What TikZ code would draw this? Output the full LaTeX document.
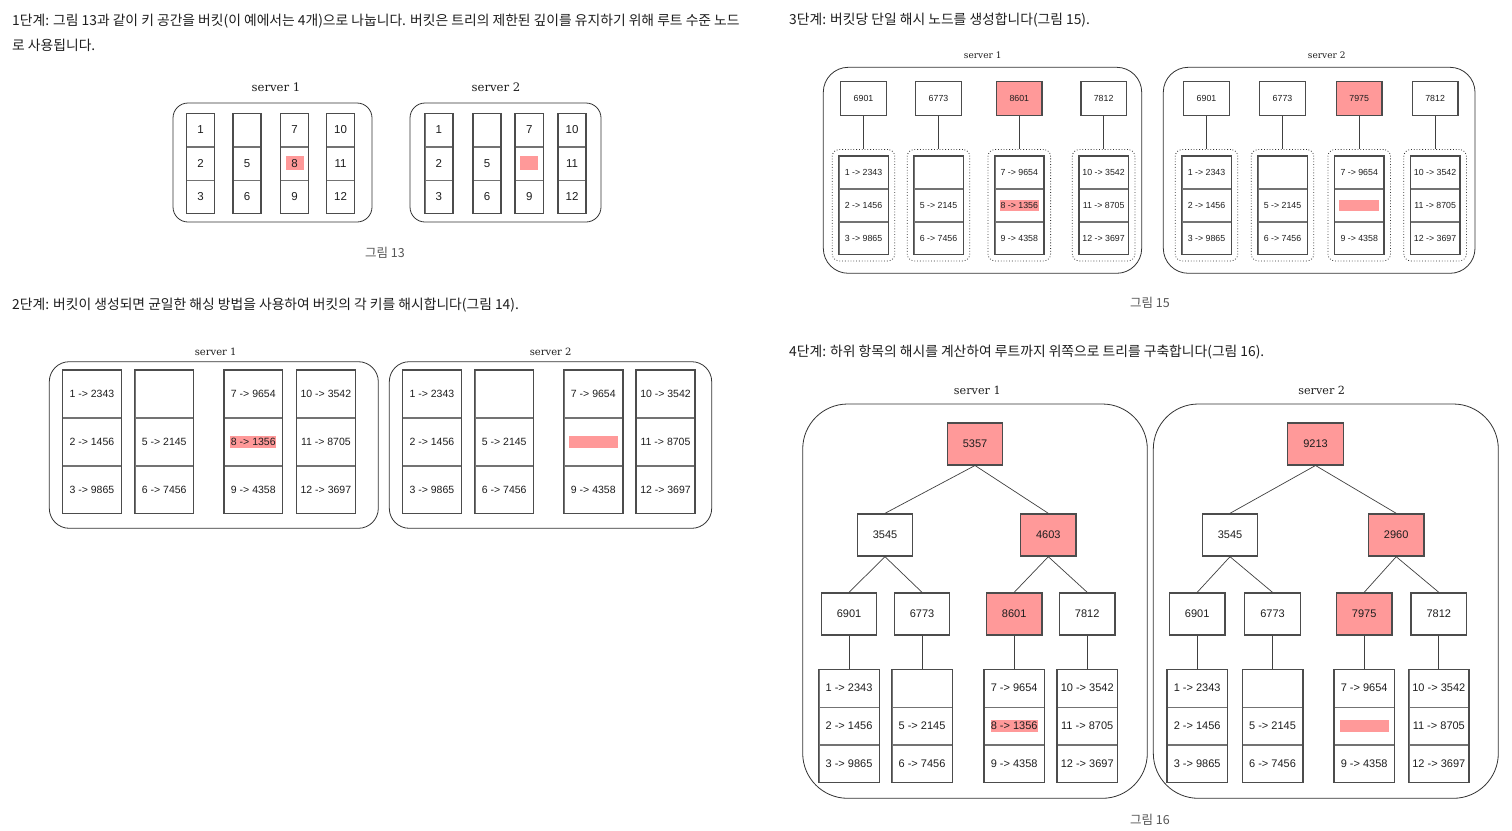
\documentclass[tikz,border=0pt]{standalone}
\usepackage{fontspec}
\setmainfont{Liberation Sans}
\newfontfamily\krfont{Noto Sans CJK KR}
\newfontfamily\srvfont{DejaVu Serif}
\usetikzlibrary{fit}
\definecolor{hlpink}{RGB}{255,153,153}
\definecolor{edgegray}{RGB}{51,51,51}
\definecolor{capgray}{RGB}{85,85,85}
\definecolor{inkgray}{RGB}{30,30,30}

% pink marker: width, height, text
\newcommand{\hlbox}[3]{{\fboxsep=0pt\colorbox{hlpink}{\parbox[c][#2][c]{#1}{\centering\mbox{}#3}}}}
% one bucket: name, centre x, top y, width, row height, three rows
\newcommand{\keycol}[8]{%
  \node[cell, minimum width=#4pt, minimum height=#5pt] (#1-1) at (#2,#3) {#6};
  \node[cell, minimum width=#4pt, minimum height=#5pt] (#1-2) at (#1-1.south) {#7};
  \node[cell, minimum width=#4pt, minimum height=#5pt] (#1-3) at (#1-2.south) {#8};
  \draw[colframe] (#1-1.north west) rectangle (#1-3.south east);
}

\tikzset{
  server/.style={draw=edgegray, line width=0.8pt},
  cell/.style={draw=black!55, line width=0.6pt, inner sep=0pt, anchor=north, text=inkgray},
  colframe/.style={draw=black!70, line width=1.4pt},
  hashbox/.style={draw=black!70, line width=1.4pt, inner sep=0pt, fill=white, text=inkgray},
  treebox/.style={hashbox, minimum width=55.5pt, minimum height=42pt},
  hot/.style={fill=hlpink},
  plain/.style={},
  dotgroup/.style={draw=black!80, dotted, line width=0.8pt, rounded corners=7pt, inner sep=6.5pt},
  link/.style={draw=black!75, line width=0.7pt},
  srvlabel/.style={font=\srvfont\fontsize{#1}{#1}\selectfont, text=inkgray},
  caption/.style={font=\krfont\fontsize{12.5}{15}\selectfont, text=capgray},
  steptext/.style={font=\krfont\fontsize{13.8}{25}\selectfont, text=inkgray, anchor=base west, inner sep=0pt, align=left},
}

\begin{document}
\begin{tikzpicture}[x=1pt, y=-1pt]
  \useasboundingbox (0,0) rectangle (1512,830);
  \fill[white] (0,0) rectangle (1512,830);

  % Step texts
  \node[steptext] (step1) at (12,50) {1단계: 그림 13과 같이 키 공간을 버킷(이 예에서는 4개)으로 나눕니다. 버킷은 트리의 제한된 깊이를 유지하기 위해 루트 수준 노드\\로 사용됩니다.};
  \node[steptext] (step2) at (12,309) {2단계: 버킷이 생성되면 균일한 해싱 방법을 사용하여 버킷의 각 키를 해시합니다(그림 14).};
  \node[steptext] (step3) at (789,24) {3단계: 버킷당 단일 해시 노드를 생성합니다(그림 15).};
  \node[steptext] (step4) at (789,356) {4단계: 하위 항목의 해시를 계산하여 루트까지 위쪽으로 트리를 구축합니다(그림 16).};

  % Figure 13: key space split into buckets
  \draw[server, rounded corners=15pt] (173,103) rectangle (372,222);
  \draw[server, rounded corners=15pt] (410,103) rectangle (601,222);
  \node[srvlabel=11.7] (f13a-lbl) at (276,87) {server 1};
  \node[srvlabel=11.7] (f13b-lbl) at (496,87) {server 2};
  \begin{scope}[font=\fontsize{11.5}{13}\selectfont]
    \foreach \x/\ta/\tb/\tc [count=\i] in {200.5/1/2/3, 247/{}/5/6, 294.5/7/{\hlbox{18pt}{14pt}{8}}/9, 340.5/10/11/12}
      {\keycol{f13a-\i}{\x}{113.3}{27.6}{32.8}{\ta}{\tb}{\tc}}
    \foreach \x/\ta/\tb/\tc [count=\i] in {438.7/1/2/3, 487/{}/5/6, 529.2/7/{\hlbox{18pt}{14pt}{}}/9, 572/10/11/12}
      {\keycol{f13b-\i}{\x}{113.3}{27.6}{32.8}{\ta}{\tb}{\tc}}
  \end{scope}
  \node[caption] (cap13) at (385,253) {그림 13};

  % Figure 14: hashed keys
  \draw[server, rounded corners=20pt] (49.3,361.7) rectangle (378.3,528.3);
  \draw[server, rounded corners=20pt] (389.3,361.7) rectangle (711.7,528.3);
  \node[srvlabel=10] (f14a-lbl) at (215.7,351.7) {server 1};
  \node[srvlabel=10] (f14b-lbl) at (550.7,351.7) {server 2};
  \begin{scope}[font=\fontsize{10.5}{12}\selectfont]
    \foreach \x/\ta/\tb/\tc [count=\i] in {91.9/1 -> 2343/2 -> 1456/3 -> 9865, 164.2/{}/5 -> 2145/6 -> 7456,
        253.3/7 -> 9654/{\hlbox{46pt}{11.7pt}{8 -> 1356}}/9 -> 4358, 325.9/10 -> 3542/11 -> 8705/12 -> 3697}
      {\keycol{f14a-\i}{\x}{370}{58.3}{47.2}{\ta}{\tb}{\tc}}
    \foreach \x/\ta/\tb/\tc [count=\i] in {431.9/1 -> 2343/2 -> 1456/3 -> 9865, 504.2/{}/5 -> 2145/6 -> 7456,
        593.3/7 -> 9654/{\hlbox{48.4pt}{12.4pt}{}}/9 -> 4358, 665.5/10 -> 3542/11 -> 8705/12 -> 3697}
      {\keycol{f14b-\i}{\x}{370}{58.5}{47.2}{\ta}{\tb}{\tc}}
  \end{scope}

  % Figure 15: one hash node per bucket
  \draw[server, rounded corners=25pt] (823.3,67.3) rectangle (1141.7,273.3);
  \draw[server, rounded corners=25pt] (1163.3,67.3) rectangle (1475,273.3);
  \node[srvlabel=9] (f15a-lbl) at (982.7,55.7) {server 1};
  \node[srvlabel=9] (f15b-lbl) at (1326.7,55.7) {server 2};
  \begin{scope}[font=\fontsize{8.8}{10}\selectfont]
    \foreach \x/\h/\s/\ta/\tb/\tc [count=\i] in {863.5/6901/plain/1 -> 2343/2 -> 1456/3 -> 9865, 938.5/6773/plain/{}/5 -> 2145/6 -> 7456,
        1019.3/8601/hot/7 -> 9654/{\hlbox{38.7pt}{10.7pt}{8 -> 1356}}/9 -> 4358, 1103.6/7812/plain/10 -> 3542/11 -> 8705/12 -> 3697}
      {\node[hashbox, \s, minimum width=45.6pt, minimum height=34pt] (f15a-h\i) at (\x,98.7) {\h};
       \keycol{f15a-\i}{\x}{156}{49}{32.2}{\ta}{\tb}{\tc}
       \node[dotgroup, fit=(f15a-\i-1)(f15a-\i-3)] (f15a-g\i) {};
       \draw[link] (f15a-h\i) -- (f15a-g\i);}
    \foreach \x/\h/\s/\ta/\tb/\tc [count=\i] in {1206.5/6901/plain/1 -> 2343/2 -> 1456/3 -> 9865, 1282.5/6773/plain/{}/5 -> 2145/6 -> 7456,
        1359.2/7975/hot/7 -> 9654/{\hlbox{40pt}{10.7pt}{}}/9 -> 4358, 1435.1/7812/plain/10 -> 3542/11 -> 8705/12 -> 3697}
      {\node[hashbox, \s, minimum width=45.6pt, minimum height=34pt] (f15b-h\i) at (\x,98.7) {\h};
       \keycol{f15b-\i}{\x}{156}{49}{32.2}{\ta}{\tb}{\tc}
       \node[dotgroup, fit=(f15b-\i-1)(f15b-\i-3)] (f15b-g\i) {};
       \draw[link] (f15b-h\i) -- (f15b-g\i);}
  \end{scope}
  \node[caption] (cap15) at (1150,302.7) {그림 15};

  % Figure 16: tree built up to the root
  \draw[server, rounded corners=45pt] (802.7,404) rectangle (1147.3,798.3);
  \draw[server, rounded corners=45pt] (1153.3,404) rectangle (1498.3,798.3);
  \node[srvlabel=11.2] (f16a-lbl) at (977.3,390) {server 1};
  \node[srvlabel=11.2] (f16b-lbl) at (1321.7,390) {server 2};
  \begin{scope}[font=\fontsize{11}{13}\selectfont]
    % server 1
    \node[treebox, hot] (t1-root) at (975,443.8) {5357};
    \node[treebox] (t1-l) at (885,535) {3545};
    \node[treebox, hot] (t1-r) at (1048.3,535) {4603};
    \draw[link] (t1-root.south) -- (t1-l.north);
    \draw[link] (t1-root.south) -- (t1-r.north);
    \foreach \x/\h/\s/\p/\ta/\tb/\tc [count=\i] in {849/6901/plain/t1-l/1 -> 2343/2 -> 1456/3 -> 9865, 922/6773/plain/t1-l/{}/5 -> 2145/6 -> 7456,
        1014.2/8601/hot/t1-r/7 -> 9654/{\hlbox{47.4pt}{12.7pt}{8 -> 1356}}/9 -> 4358, 1087.2/7812/plain/t1-r/10 -> 3542/11 -> 8705/12 -> 3697}
      {\node[treebox, \s] (t1-h\i) at (\x,614) {\h};
       \draw[link] (\p.south) -- (t1-h\i.north);
       \keycol{f16a-\i}{\x}{669.3}{60}{37.2}{\ta}{\tb}{\tc}
       \draw[link] (t1-h\i.south) -- (f16a-\i-1.north);}
    % server 2
    \node[treebox, hot] (t2-root) at (1315.5,443.8) {9213};
    \node[treebox] (t2-l) at (1230,535) {3545};
    \node[treebox, hot] (t2-r) at (1396.2,535) {2960};
    \draw[link] (t2-root.south) -- (t2-l.north);
    \draw[link] (t2-root.south) -- (t2-r.north);
    \foreach \x/\h/\s/\p/\ta/\tb/\tc [count=\i] in {1197.2/6901/plain/t2-l/1 -> 2343/2 -> 1456/3 -> 9865, 1272.5/6773/plain/t2-l/{}/5 -> 2145/6 -> 7456,
        1364.2/7975/hot/t2-r/7 -> 9654/{\hlbox{49pt}{12.4pt}{}}/9 -> 4358, 1438.8/7812/plain/t2-r/10 -> 3542/11 -> 8705/12 -> 3697}
      {\node[treebox, \s] (t2-h\i) at (\x,614) {\h};
       \draw[link] (\p.south) -- (t2-h\i.north);
       \keycol{f16b-\i}{\x}{669.3}{60}{37.2}{\ta}{\tb}{\tc}
       \draw[link] (t2-h\i.south) -- (f16b-\i-1.north);}
  \end{scope}
  \node[caption] (cap16) at (1150,820) {그림 16};
\end{tikzpicture}
\end{document}
